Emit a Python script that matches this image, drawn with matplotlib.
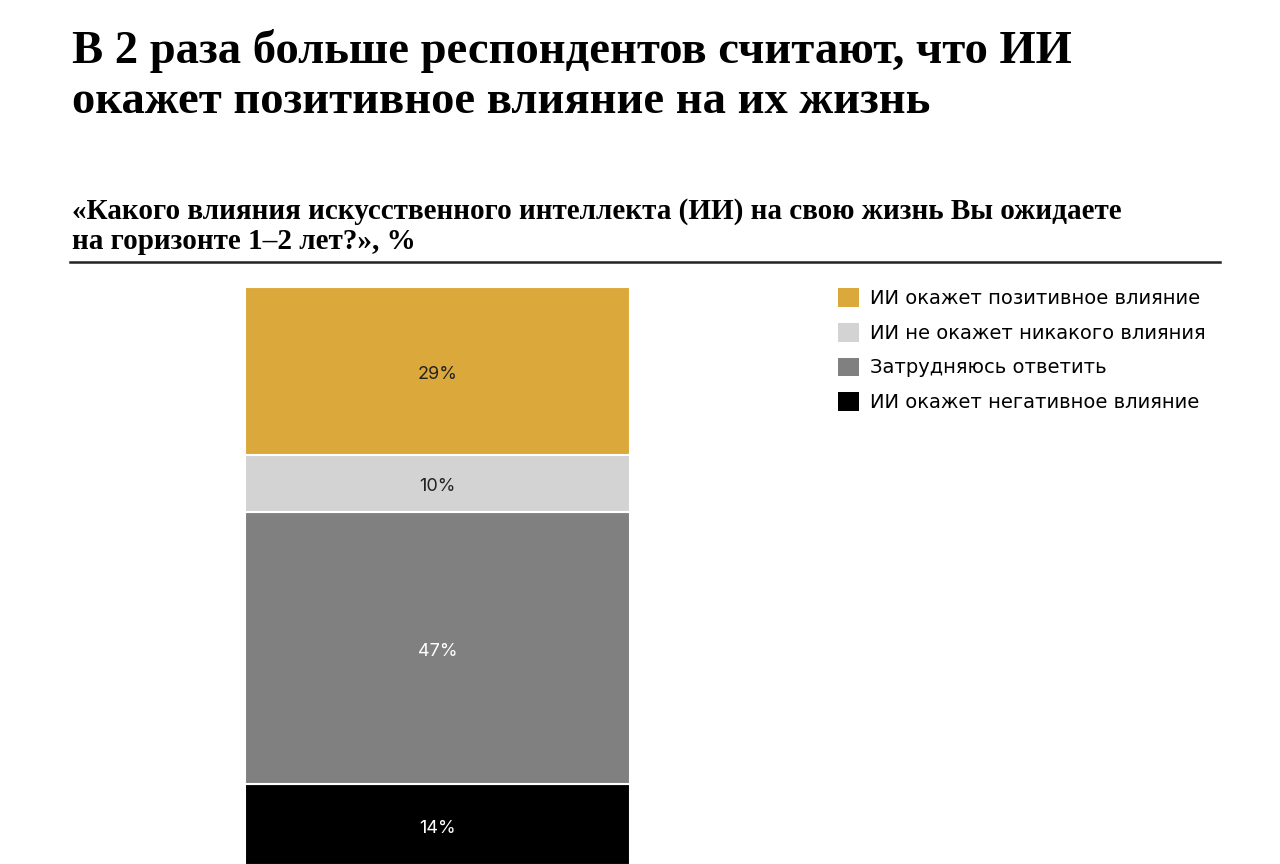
import matplotlib.pyplot as plt
from matplotlib.patches import Patch

# data, bottom to top as stacked
categories = ["ИИ окажет негативное влияние", "Затрудняюсь ответить",
              "ИИ не окажет никакого влияния", "ИИ окажет позитивное влияние"]
values = [14, 47, 10, 29]
colors = ["#000000", "#808080", "#d3d3d3", "#dba83c"]
label_colors = ["white", "white", "#222222", "#222222"]

title = "В 2 раза больше респондентов считают, что ИИ\nокажет позитивное влияние на их жизнь"
subtitle = "«Какого влияния искусственного интеллекта (ИИ) на свою жизнь Вы ожидаете\nна горизонте 1–2 лет?», %"

W, H = 1280, 864
fig = plt.figure(figsize=(12.8, 8.64), dpi=100)

fig.text(72 / W, 1 - 29 / H, title, fontsize=33.6, fontweight="bold",
         family="Liberation Serif", va="top", ha="left", linespacing=1.26)
fig.text(72 / W, 1 - 198 / H, subtitle, fontsize=21, fontweight="bold",
         family="Liberation Serif", va="top", ha="left", linespacing=1.15)
fig.add_artist(plt.Line2D([70 / W, 1220 / W], [1 - 262 / H, 1 - 262 / H],
                          color="#222222", lw=1.8))

ax = fig.add_axes([245 / W, -1 / H, 385 / W, 578 / H])
bottom = 0
for v, c, lc in zip(values, colors, label_colors):
    ax.bar(0, v, bottom=bottom, width=1, color=c, edgecolor="white", linewidth=1.5)
    # small nudge down so the label sits like in the original
    ax.text(0, bottom + v / 2 - 0.6, f"{v}%", ha="center", va="center",
            color=lc, fontsize=13, family="Inter")
    bottom += v
ax.set_xlim(-0.5, 0.5)
ax.set_ylim(0, 100)
ax.axis("off")

handles = [Patch(facecolor=c, label=l) for c, l in zip(colors, categories)][::-1]
fig.legend(handles=handles, loc="upper left", bbox_to_anchor=(820 / W, 1 - 271 / H),
           frameon=False, prop={"family": "DejaVu Sans", "size": 14},
           handlelength=1.1, handleheight=1.1, handletextpad=0.55, labelspacing=0.75)

fig.savefig("out.png", dpi=100)
